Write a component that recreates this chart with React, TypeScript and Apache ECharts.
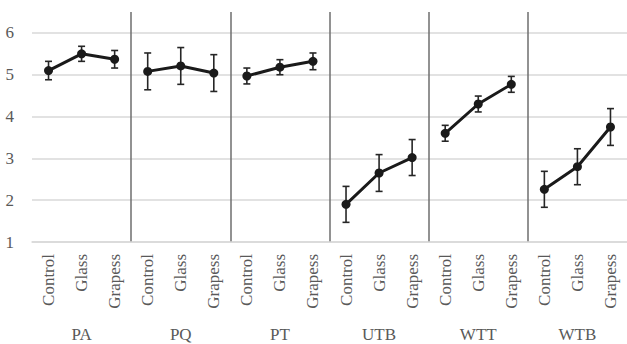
import React, { useEffect, useRef } from "react";
import * as echarts from "echarts";

const groups = ["PA", "PQ", "PT", "UTB", "WTT", "WTB"];
const treatments = ["Control", "Glass", "Grapess"];
const yTicks = [1, 2, 3, 4, 5, 6];

const meanPA = [5.1, 5.5, 5.37];
const meanPQ = [5.08, 5.21, 5.04];
const meanPT = [4.97, 5.18, 5.32];
const meanUTB = [1.9, 2.65, 3.02];
const meanWTT = [3.6, 4.3, 4.77];
const meanWTB = [2.26, 2.8, 3.75];

const errPA = [0.22, 0.18, 0.21];
const errPQ = [0.44, 0.44, 0.44];
const errPT = [0.19, 0.18, 0.2];
const errUTB = [0.43, 0.44, 0.43];
const errWTT = [0.19, 0.19, 0.19];
const errWTB = [0.43, 0.43, 0.44];

const means = [meanPA, meanPQ, meanPT, meanUTB, meanWTT, meanWTB];
const errs = [errPA, errPQ, errPT, errUTB, errWTT, errWTB];

const FONT = "Liberation Serif";

export default function App() {
  const ref = useRef<HTMLDivElement>(null);
  useEffect(() => {
    if (!ref.current) return;
    const chart = echarts.init(ref.current, undefined, { renderer: "svg" });
    const xCats: string[] = [];
    groups.forEach(() => treatments.forEach((t) => xCats.push(t)));
    const n = xCats.length;

    const lineSeries = groups.map((g, gi) => {
      const data: any[] = new Array(n).fill("-");
      means[gi].forEach((v, ti) => {
        data[gi * 3 + ti] = v;
      });
      return {
        name: g,
        type: "line",
        xAxisIndex: 0,
        yAxisIndex: 0,
        data,
        symbol: "circle",
        symbolSize: 9,
        lineStyle: { color: "#1a1a1a", width: 3 },
        itemStyle: { color: "#1a1a1a" },
        z: 5,
      };
    });

    const errData: number[][] = [];
    groups.forEach((g, gi) => {
      means[gi].forEach((v, ti) => {
        errData.push([gi * 3 + ti, v - errs[gi][ti], v + errs[gi][ti]]);
      });
    });

    chart.setOption({
      animation: false,
      grid: { left: 32, right: -3, top: 12, bottom: 102 },
      xAxis: [
        {
          type: "category",
          data: xCats,
          position: "bottom",
          axisLine: { show: true, lineStyle: { color: "#d9d9d9", width: 1.5 } },
          axisTick: { show: false },
          splitLine: { show: false },
          axisLabel: {
            interval: 0,
            rotate: 90,
            margin: 12,
            fontFamily: FONT,
            fontSize: 17,
            color: "#595959",
          },
        },
        {
          type: "category",
          data: groups,
          position: "bottom",
          axisLine: { show: false },
          axisTick: { show: false },
          splitLine: {
            show: true,
            interval: 0,
            showMinLine: false,
            showMaxLine: false,
            lineStyle: { color: "#6e6e6e", width: 1.5 },
          },
          axisLabel: {
            interval: 0,
            margin: 84,
            fontFamily: FONT,
            fontSize: 17,
            color: "#595959",
          },
        },
      ],
      yAxis: {
        type: "value",
        min: yTicks[0],
        max: 6.5,
        interval: 1,
        axisLine: { show: false },
        axisTick: { show: false },
        splitLine: {
          show: true,
          showMaxLine: false,
          lineStyle: { color: "#d9d9d9", width: 1.5 },
        },
        axisLabel: {
          showMaxLabel: false,
          margin: 18,
          fontFamily: FONT,
          fontSize: 17,
          color: "#595959",
          formatter: (v: number) => (yTicks.includes(v) ? String(v) : ""),
        },
      },
      series: [
        ...lineSeries,
        {
          type: "custom",
          xAxisIndex: 0,
          yAxisIndex: 0,
          data: errData,
          encode: { x: 0, y: [1, 2] },
          z: 4,
          renderItem: (params: any, api: any) => {
            const lo = api.coord([api.value(0), api.value(1)]);
            const hi = api.coord([api.value(0), api.value(2)]);
            const w = 3.5;
            const st = { stroke: "#262626", lineWidth: 1.6 };
            return {
              type: "group",
              children: [
                { type: "line", shape: { x1: lo[0], y1: lo[1], x2: hi[0], y2: hi[1] }, style: st },
                { type: "line", shape: { x1: lo[0] - w, y1: lo[1], x2: lo[0] + w, y2: lo[1] }, style: st },
                { type: "line", shape: { x1: hi[0] - w, y1: hi[1], x2: hi[0] + w, y2: hi[1] }, style: st },
              ],
            };
          },
        },
      ],
    });
    return () => chart.dispose();
  }, []);
  return (
    <div
      ref={ref}
      style={{ position: "fixed", left: 0, top: 0, width: 627, height: 344, background: "#fff" }}
    />
  );
}
